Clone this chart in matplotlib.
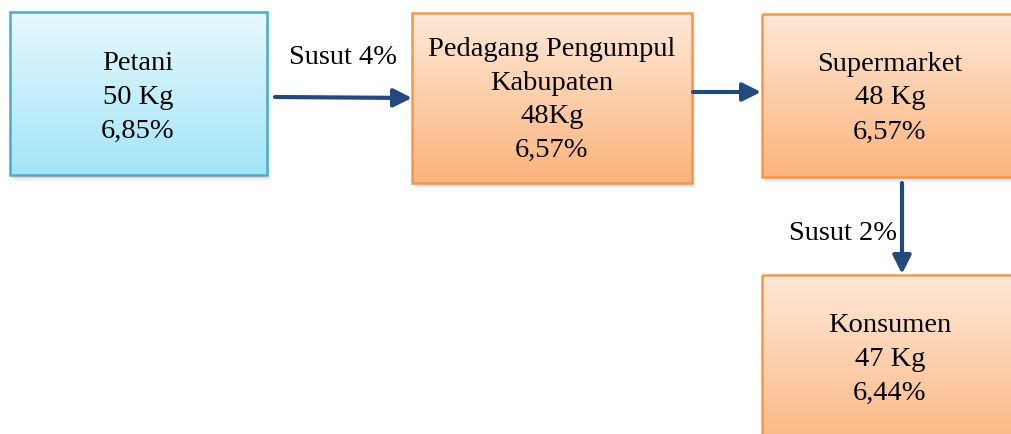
import matplotlib.pyplot as plt
import numpy as np
from matplotlib.patches import Rectangle
from matplotlib.colors import LinearSegmentedColormap

# chain data
actors = ["Petani", "Pedagang Pengumpul\nKabupaten", "Supermarket", "Konsumen"]
weights = ["50 Kg", "48Kg", "48 Kg", "47 Kg"]
shares = ["6,85%", "6,57%", "6,57%", "6,44%"]
losses = ["Susut 4%", "Susut 2%"]

# layout in pixels (x0, y0, x1, y1), y downwards
BOXES = [(10, 12, 267, 175), (412, 13, 692, 183), (762, 14, 1030, 177), (762, 275, 1030, 460)]
CENTERS = [(138, 97), (552, 100), (890, 98), (890, 359)]
STYLES = [
    ("#E6F8FD", "#A3E5F8", "#4BACC6"),
    ("#FEE8D8", "#FBB47C", "#F79646"),
    ("#FEE8D8", "#FBB47C", "#F79646"),
    ("#FEE8D8", "#FBB47C", "#F79646"),
]
ARROW = "#23497E"
FONT = ["Liberation Serif", "DejaVu Serif"]
FS = 20.5

fig = plt.figure(figsize=(10.11, 4.34), dpi=100)
ax = fig.add_axes([0, 0, 1, 1])
ax.set_xlim(0, 1011)
ax.set_ylim(434, 0)
ax.axis("off")


def draw_box(box, style):
    x0, y0, x1, y1 = box
    top, bottom, edge = style
    # soft shadow
    for k, a in enumerate([0.10, 0.08, 0.06, 0.04]):
        ax.add_patch(Rectangle((x0 + 1 + k, y0 + 3 + k), x1 - x0, y1 - y0,
                               facecolor="#7F7F7F", edgecolor="none", alpha=a, zorder=1))
    cmap = LinearSegmentedColormap.from_list("g", [top, bottom])
    grad = np.linspace(0, 1, 256).reshape(-1, 1)
    ax.imshow(grad, cmap=cmap, extent=(x0, x1, y1, y0), aspect="auto", zorder=2,
              interpolation="bilinear")
    ax.add_patch(Rectangle((x0, y0), x1 - x0, y1 - y0, facecolor="none",
                           edgecolor=edge, lw=1.8, zorder=3))


for i, (box, style) in enumerate(zip(BOXES, STYLES)):
    draw_box(box, style)
    ax.text(CENTERS[i][0], CENTERS[i][1], f"{actors[i]}\n{weights[i]}\n{shares[i]}",
            ha="center", va="center", fontsize=FS, family=FONT,
            linespacing=1.47, zorder=4)

arrow_kw = dict(arrowstyle="-|>,head_length=1.1,head_width=0.55", color=ARROW, lw=3,
                shrinkA=0, shrinkB=0)
ax.annotate("", xy=(412, 98), xytext=(275, 97), arrowprops=arrow_kw, zorder=5)
ax.annotate("", xy=(761, 92), xytext=(693, 92), arrowprops=arrow_kw, zorder=5)
ax.annotate("", xy=(902, 274), xytext=(902, 183), arrowprops=arrow_kw, zorder=5)

ax.text(343, 58, losses[0], ha="center", va="center", fontsize=FS, family=FONT)
ax.text(843, 234, losses[1], ha="center", va="center", fontsize=FS, family=FONT)

fig.savefig("out.png", dpi=100)
